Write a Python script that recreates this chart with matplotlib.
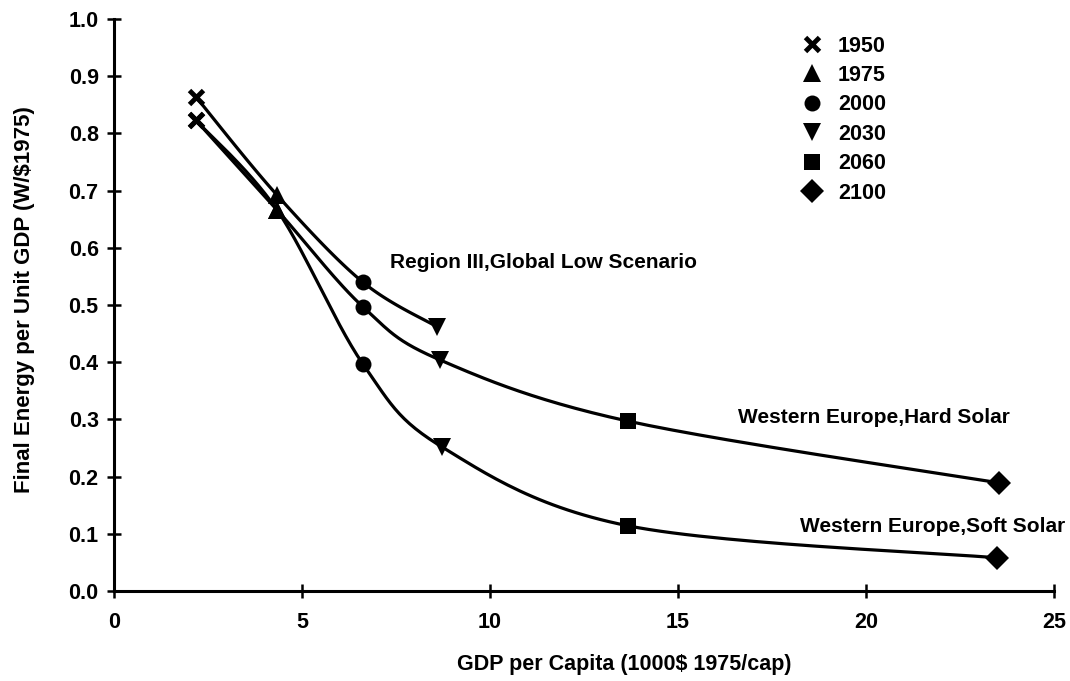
import numpy as np
import matplotlib
matplotlib.use("Agg")
import matplotlib.pyplot as plt
from matplotlib.lines import Line2D

plt.rcParams['font.family'] = ['Liberation Sans', 'DejaVu Sans']
FS = 15.5

# years and their markers
years = [1950, 1975, 2000, 2030, 2060, 2100]
year_markers = ['x', '^', 'o', 'v', 's', 'D']

# Region III, Global Low Scenario (1950-2030)
region3_gdp = [2.18, 4.34, 6.62, 8.59]
region3_energy = [0.864, 0.692, 0.540, 0.462]

# Western Europe, Hard Solar
hard_gdp = [2.18, 4.34, 6.62, 8.67, 13.67, 23.54]
hard_energy = [0.823, 0.666, 0.497, 0.404, 0.297, 0.189]

# Western Europe, Soft Solar
soft_gdp = [2.18, 4.34, 6.62, 8.72, 13.67, 23.48]
soft_energy = [0.823, 0.666, 0.397, 0.252, 0.114, 0.058]

labels = ['Region III,Global Low Scenario',
          'Western Europe,Hard Solar',
          'Western Europe,Soft Solar']
label_pos = [(7.34, 0.575), (16.6, 0.304), (18.24, 0.112)]


def smooth(xs, ys, n=30, tension=0.5):
    # cardinal spline through the points, only for drawing the line
    p = np.column_stack([xs, ys]).astype(float)
    p = np.vstack([p[0], p, p[-1]])
    out = []
    for i in range(1, len(p) - 2):
        p0, p1, p2, p3 = p[i - 1], p[i], p[i + 1], p[i + 2]
        m1 = tension * (p2 - p0)
        m2 = tension * (p3 - p1)
        t = np.linspace(0, 1, n)[:, None]
        h00 = 2 * t**3 - 3 * t**2 + 1
        h10 = t**3 - 2 * t**2 + t
        h01 = -2 * t**3 + 3 * t**2
        h11 = t**3 - t**2
        out.append(h00 * p1 + h10 * m1 + h01 * p2 + h11 * m2)
    c = np.vstack(out)
    return c[:, 0], c[:, 1]


def marker_kw(m):
    if m == 'x':
        return dict(marker='x', markersize=10, markeredgewidth=3.5, color='black')
    size = {'^': 13, 'o': 11.5, 'v': 13, 's': 12, 'D': 12.5}[m]
    return dict(marker=m, markersize=size, color='black', markeredgewidth=0)


fig = plt.figure(figsize=(10.7, 6.81), dpi=100)
ax = fig.add_axes([0.1065, 0.1322, 0.8785, 0.8398])

for gx, gy in [(region3_gdp, region3_energy), (hard_gdp, hard_energy), (soft_gdp, soft_energy)]:
    sx, sy = smooth(gx, gy)
    ax.plot(sx, sy, color='black', lw=2.3, solid_capstyle='round', zorder=2)
    for i, (x, y) in enumerate(zip(gx, gy)):
        ax.plot([x], [y], linestyle='none', zorder=3, **marker_kw(year_markers[i]))

for text, (x, y) in zip(labels, label_pos):
    ax.text(x, y, text, fontsize=15, fontweight='bold', va='center', ha='left')

handles = [Line2D([], [], linestyle='none', **marker_kw(m)) for m in year_markers]
ax.legend(handles, [str(y) for y in years], loc='upper left',
          bbox_to_anchor=(0.7085, 1.005), frameon=False, handlelength=1.2,
          handletextpad=0.6, labelspacing=0.39,
          prop={'size': FS, 'weight': 'bold'})

ax.set_xlim(0, 25)
ax.set_ylim(0, 1.0)
ax.set_xticks(range(0, 26, 5))
ax.set_yticks(np.arange(0, 1.01, 0.1))
ax.set_yticklabels([f"{v:.1f}" for v in np.arange(0, 1.01, 0.1)])
for s in ['top', 'right']:
    ax.spines[s].set_visible(False)
for s in ['left', 'bottom']:
    ax.spines[s].set_linewidth(2.2)
ax.tick_params(direction='inout', length=10, width=1.8, labelsize=FS)
ax.tick_params(axis='y', pad=6)
ax.tick_params(axis='x', pad=10)
for lab in ax.get_xticklabels() + ax.get_yticklabels():
    lab.set_fontweight('bold')

ax.set_xlabel('GDP per Capita (1000$ 1975/cap)', fontsize=FS, fontweight='bold')
ax.set_ylabel('Final Energy per Unit GDP (W/$1975)', fontsize=16, fontweight='bold')
ax.xaxis.set_label_coords(0.543, -0.110)
ax.yaxis.set_label_coords(-0.084, 0.51)

fig.savefig('out.png', dpi=100)
